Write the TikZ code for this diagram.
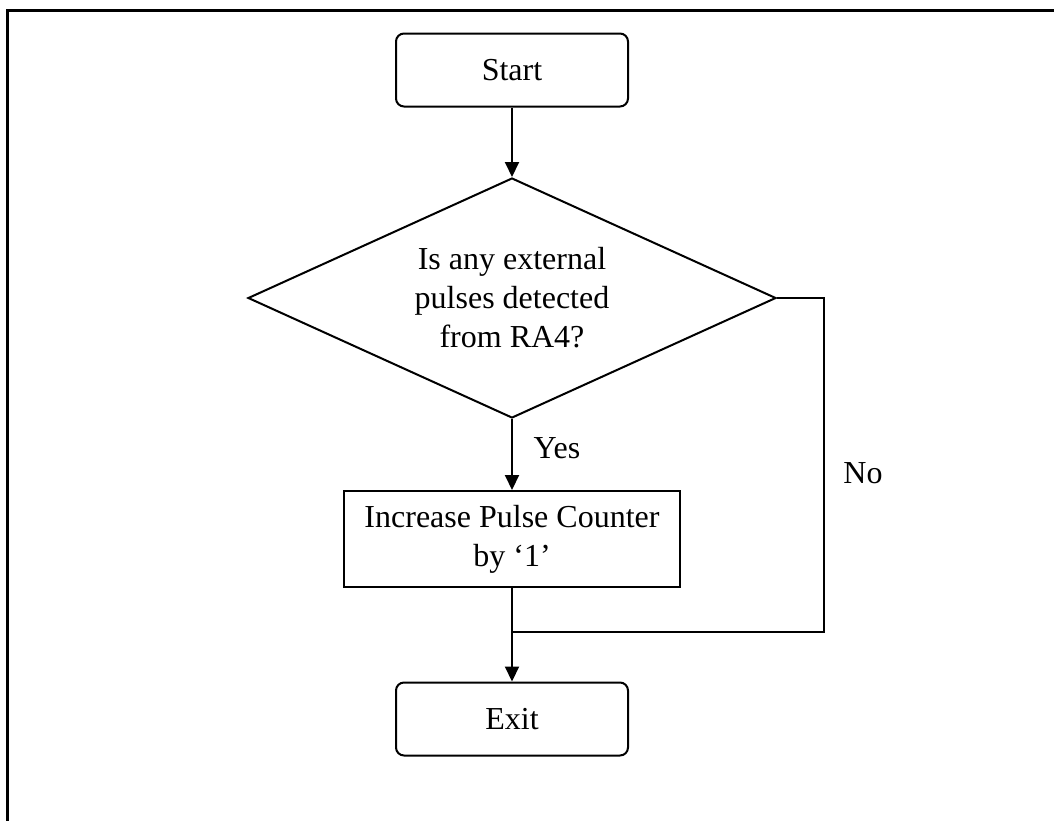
\documentclass[tikz,border=0pt]{standalone}
\usepackage{fontspec}
\setmainfont{Liberation Serif}
\usetikzlibrary{shapes.geometric,arrows.meta}

\begin{document}
\begin{tikzpicture}[x=0.5pt,y=-0.5pt,line width=1pt,>={Triangle[length=7.5pt,width=7pt]},
    font=\fontsize{16}{19.5}\selectfont]
    \tikzstyle{terminal}=[draw,rounded corners=4pt,minimum width=116pt,minimum height=36.5pt,inner sep=0pt]
    \tikzstyle{decision}=[draw,diamond,aspect=2.2,minimum width=264pt,minimum height=120pt,inner sep=0pt,align=center]
    \tikzstyle{process}=[draw,minimum width=168pt,minimum height=48pt,inner sep=0pt,align=center]
    \tikzstyle{annot}=[inner sep=0pt]

    \clip (0,0) rectangle (1054,820);
    \draw[line width=1.5pt] (7,10) rectangle (1080,850);

    % Draw the flow nodes
    \node[terminal] (start) at (512,70) {Start};
    \node[decision] (test) at (512,298) {Is any external\\pulses detected\\from RA4?};
    \node[process] (count) at (512,539) {Increase Pulse Counter\\by ‘1’};
    \node[terminal] (exit) at (512,719) {Exit};
    \coordinate (join) at (512,632);
    \coordinate (side) at (824,298);

    % Connect the nodes
    \draw[->] (start) -- (test);
    \draw[->] (test) -- (count);
    \draw[->] (count) -- (exit);
    \draw (test.east) -- (side) |- (join);

    % Annotate the branches
    \node[annot] at (557,448) {Yes};
    \node[annot] at (863,473) {No};
\end{tikzpicture}
\end{document}
